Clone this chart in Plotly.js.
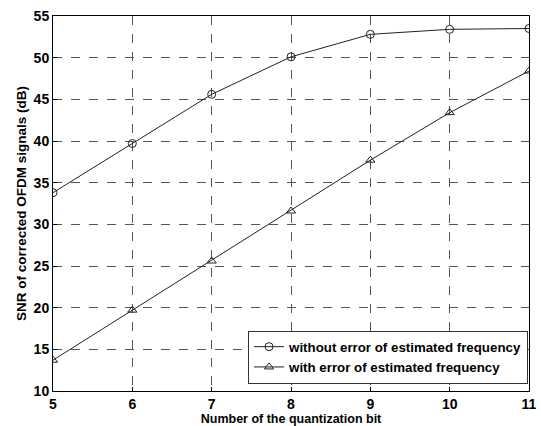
<!DOCTYPE html>
<html><head><meta charset="utf-8">
<script src="https://cdn.plot.ly/plotly-3.0.1.min.js"></script>
<style>html,body{margin:0;padding:0;background:#fff;}#c{width:541px;height:426px;}</style>
</head><body><div id="c"></div>
<script>
const bits = [5, 6, 7, 8, 9, 10, 11];
const snrNoError = [33.8, 39.7, 45.6, 50.1, 52.8, 53.4, 53.5];
const snrWithError = [13.7, 19.7, 25.6, 31.6, 37.7, 43.4, 48.4];
const seriesNames = ['without error of estimated frequency', 'with error of estimated frequency'];
const xTicks = [5, 6, 7, 8, 9, 10, 11];
const yTicks = [10, 15, 20, 25, 30, 35, 40, 45, 50, 55];

const font = {family: 'Liberation Sans, Arial, sans-serif', color: '#000'};
const traces = [
  {x: bits, y: snrNoError, name: seriesNames[0], mode: 'lines+markers', type: 'scatter',
   line: {color: '#222', width: 1},
   marker: {symbol: 'circle-open', size: 8, color: '#222', line: {width: 1}}},
  {x: bits, y: snrWithError, name: seriesNames[1], mode: 'lines+markers', type: 'scatter',
   line: {color: '#222', width: 1},
   marker: {symbol: 'triangle-up-open', size: 8, color: '#222', line: {width: 1}}}
];
const axisCommon = {
  showline: true, linecolor: '#000', linewidth: 1, mirror: true,
  showgrid: true, gridcolor: '#555', griddash: 'dash', gridwidth: 1,
  zeroline: false, ticks: 'inside', ticklen: 4, tickcolor: '#000',
  tickfont: Object.assign({size: 14, weight: 'bold'}, font)
};
const layout = {
  width: 541, height: 426,
  margin: {l: 53, r: 12, t: 16, b: 35},
  paper_bgcolor: '#fff', plot_bgcolor: '#fff',
  showlegend: true,
  legend: {x: 0.998, y: 0.02, xanchor: 'right', yanchor: 'bottom',
    bgcolor: '#fff', bordercolor: '#333', borderwidth: 1,
    font: Object.assign({size: 13.3, weight: 'bold'}, font),
    tracegroupgap: 0, itemwidth: 30},
  xaxis: Object.assign({}, axisCommon, {range: [5, 11], tickvals: xTicks,
    ticktext: xTicks.map(String),
    title: {text: 'Number of the quantization bit', standoff: 2,
      font: Object.assign({size: 12.5, weight: 'bold'}, font)}}),
  yaxis: Object.assign({}, axisCommon, {range: [10, 55], tickvals: yTicks,
    ticktext: yTicks.map(String),
    title: {text: 'SNR of corrected OFDM signals (dB)', standoff: 3,
      font: Object.assign({size: 13.5, weight: 'bold'}, font)}})
};
Plotly.newPlot('c', traces, layout, {displayModeBar: false, staticPlot: true});
</script></body></html>
